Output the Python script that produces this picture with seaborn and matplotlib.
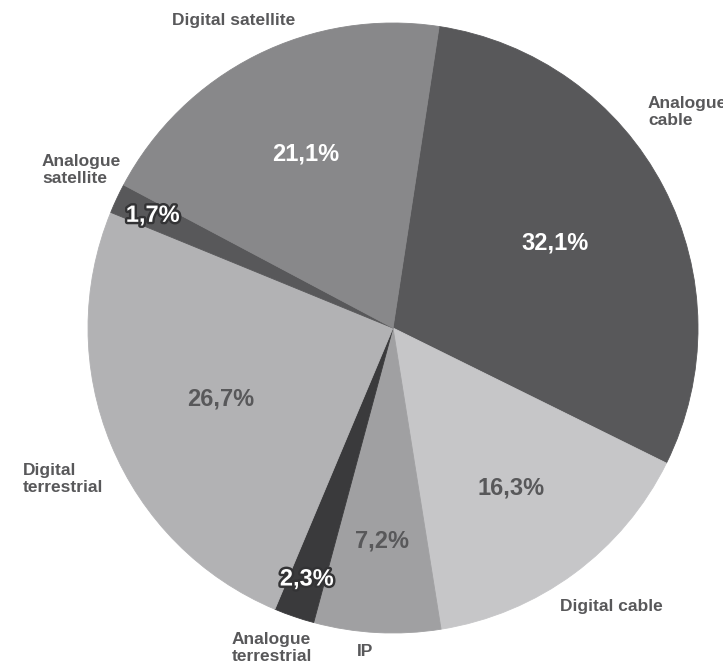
import numpy as np
import matplotlib
matplotlib.use("Agg")
import matplotlib.pyplot as plt
import matplotlib.patheffects as pe
import seaborn as sns

# Share of TV households by reception platform (%)
categories = ["Analogue cable", "Digital cable", "IP", "Analogue terrestrial",
              "Digital terrestrial", "Analogue satellite", "Digital satellite"]
values = [32.1, 16.3, 7.2, 2.3, 26.7, 1.7, 21.1]
value_labels = ["32,1%", "16,3%", "7,2%", "2,3%", "26,7%", "1,7%", "21,1%"]
outer_labels = ["Analogue\ncable", "Digital cable", "IP", "Analogue\nterrestrial",
                "Digital\nterrestrial", "Analogue\nsatellite", "Digital satellite"]

colors = ["#58585a", "#c6c6c8", "#a0a0a2", "#3a3a3c", "#b2b2b4", "#58585a", "#88888a"]
pct_colors = ["white", "#58585a", "#58585a", "white", "#58585a", "white", "white"]
pct_outline = [False, False, False, True, False, True, False]
pct_radius = [0.60, 0.65, 0.70, 0.87, 0.61, 0.87, 0.64]

# outer label anchors (left edge, vertical centre) in pixel coordinates
label_pos = [(648, 112), (560, 606), (357, 652), (232, 648),
             (23, 479), (42, 170), (172, 20)]

sns.set_theme(style="white")
plt.rcParams["font.family"] = ["Liberation Sans", "DejaVu Sans"]

W, H = 723, 668
cx, cy, R = 393, 328, 305
fig = plt.figure(figsize=(W / 100, H / 100), dpi=100)
ax = fig.add_axes([0, 0, 1, 1])

wedges, _ = ax.pie(values, colors=colors, startangle=81.3, counterclock=False,
                   radius=1, center=(0, 0),
                   wedgeprops=dict(linewidth=0, antialiased=True))
for w in wedges:
    w.set_edgecolor(w.get_facecolor())
    w.set_linewidth(0.6)

ax.set_xlim(-cx / R, (W - cx) / R)
ax.set_ylim(-(H - cy) / R, cy / R)
ax.set_aspect("equal", adjustable="box")
ax.axis("off")

for w, txt, col, outl, rd in zip(wedges, value_labels, pct_colors, pct_outline, pct_radius):
    ang = np.deg2rad((w.theta1 + w.theta2) / 2)
    t = ax.text(rd * np.cos(ang), rd * np.sin(ang), txt, ha="center", va="center",
                fontsize=17, fontweight="bold", color=col)
    if outl:
        t.set_path_effects([pe.withStroke(linewidth=3.5, foreground="#333335")])

def px_to_data(px, py):
    return (px - cx) / R, (cy - py) / R

for txt, (px, py) in zip(outer_labels, label_pos):
    x, y = px_to_data(px, py)
    ax.text(x, y, txt, ha="left", va="center", fontsize=12.5, fontweight="bold",
            color="#58585a", linespacing=1.1)

fig.savefig("out.png", dpi=100, facecolor="white")
